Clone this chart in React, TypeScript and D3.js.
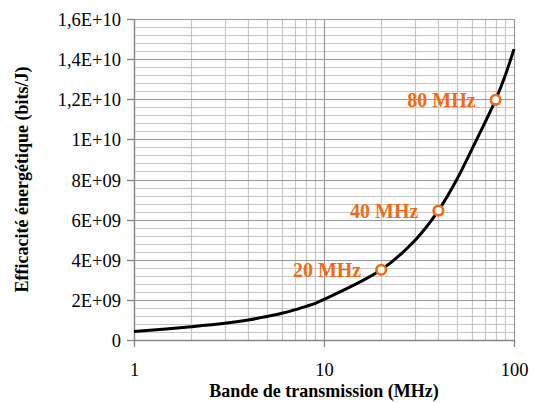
// Energy efficiency vs bandwidth, log-x line chart
import React from 'react';
import * as d3 from 'd3';

const bandwidths = [1, 2, 3, 4, 5, 6, 7, 8, 9, 10, 20, 30, 40, 50, 60, 70, 80, 90, 100];
const efficiency = [0.42e9, 0.66e9, 0.83e9, 1.0e9, 1.17e9, 1.33e9, 1.5e9, 1.67e9, 1.83e9, 2.02e9,
  3.5e9, 4.95e9, 6.45e9, 8.0e9, 9.5e9, 10.8e9, 11.97e9, 13.2e9, 14.5e9];

const markerBands = [20, 40, 80];
const markerValues = [3.5e9, 6.45e9, 11.97e9];
const markerLabels = ['20 MHz', '40 MHz', '80 MHz'];

const yTicks = [0, 2e9, 4e9, 6e9, 8e9, 1e10, 1.2e10, 1.4e10, 1.6e10];
const yTickLabels = ['0', '2E+09', '4E+09', '6E+09', '8E+09', '1E+10', '1,2E+10', '1,4E+10', '1,6E+10'];
const xTicks = [1, 10, 100];

const ORANGE = '#f7680f';
const FONT = 'Liberation Serif';

const width = 534;
const height = 403;
const margin = { top: 19, right: 20, bottom: 63, left: 134 };
const plotWidth = width - margin.left - margin.right;
const plotHeight = height - margin.top - margin.bottom;

const xScale = d3.scaleLog().domain([1, 100]).range([0, plotWidth]);
const yScale = d3.scaleLinear().domain([0, 1.6e10]).range([plotHeight, 0]);

const px = (v: number) => Math.round(v) + 0.5;
const serif = { fontFamily: FONT };

const App: React.FC = () => {
  // minor grid: every 4E+08 horizontally, 2..9 per decade vertically
  const minorY = d3.range(0, 1.6e10 + 1, 4e8);
  const minorX: number[] = [];
  [1, 10].forEach(dec => {
    for (let k = 2; k <= 9; k++) minorX.push(k * dec);
  });

  const pts = bandwidths.map((b, i) => ({ x: b, y: efficiency[i] }));
  const line = d3.line<{ x: number; y: number }>()
    .x(d => xScale(d.x))
    .y(d => yScale(d.y))
    .curve(d3.curveCatmullRom.alpha(0.5));

  return (
    <svg
      width={width}
      height={height}
      style={{ position: 'absolute', left: 0, top: 0, background: '#fff' }}
    >
      <g transform={`translate(${margin.left},${margin.top})`}>
        {minorY.map(d => (
          <line key={`hm${d}`} x1={0} x2={plotWidth} y1={px(yScale(d))} y2={px(yScale(d))}
            stroke="#c6c6c6" strokeWidth={1.2} />
        ))}
        {minorX.map(d => (
          <line key={`vm${d}`} y1={0} y2={plotHeight} x1={px(xScale(d))} x2={px(xScale(d))}
            stroke="#c6c6c6" strokeWidth={1.2} />
        ))}
        {yTicks.map(d => (
          <line key={`hM${d}`} x1={0} x2={plotWidth} y1={px(yScale(d))} y2={px(yScale(d))}
            stroke="#9a9a9a" strokeWidth={1.2} />
        ))}
        {xTicks.map(d => (
          <line key={`vM${d}`} y1={0} y2={plotHeight} x1={px(xScale(d))} x2={px(xScale(d))}
            stroke="#9a9a9a" strokeWidth={1.2} />
        ))}

        {/* y axis */}
        <line x1={0.5} x2={0.5} y1={0} y2={plotHeight} stroke="#868686" strokeWidth={1.3} />
        {yTicks.map((d, i) => (
          <g key={`yt${d}`} transform={`translate(0,${px(yScale(d))})`}>
            <line x1={-7} x2={0} stroke="#868686" strokeWidth={1.3} />
            <text x={-13} dy="0.34em" textAnchor="end" fontFamily={FONT} style={serif}
              fontSize={18.5} fill="#000">
              {yTickLabels[i]}
            </text>
          </g>
        ))}

        {/* x axis */}
        <line x1={0} x2={plotWidth} y1={plotHeight + 0.5} y2={plotHeight + 0.5} stroke="#868686" strokeWidth={1.3} />
        {xTicks.map(d => (
          <g key={`xt${d}`} transform={`translate(${px(xScale(d))},${plotHeight})`}>
            <line y1={0} y2={7} stroke="#868686" strokeWidth={1.3} />
            <text y={36} textAnchor="middle" fontFamily={FONT} style={serif} fontSize={18.5} fill="#000">
              {d}
            </text>
          </g>
        ))}

        <path d={line(pts) ?? ''} fill="none" stroke="#000" strokeWidth={3} />

        {markerBands.map((b, i) => {
          const cx = xScale(b);
          const cy = yScale(markerValues[i]);
          return (
            <g key={`mk${b}`}>
              <circle cx={cx} cy={cy} r={4.8} fill="#fff" stroke={ORANGE} strokeWidth={2.6} />
              <text x={cx - 20} y={cy + 7} textAnchor="end" fontFamily={FONT} style={serif}
                fontSize={20} fontWeight="bold" fill={ORANGE}>
                {markerLabels[i]}
              </text>
            </g>
          );
        })}
      </g>

      <text x={margin.left + plotWidth / 2} y={397} textAnchor="middle" fontFamily={FONT} style={serif}
        fontSize={18} fontWeight="bold">
        Bande de transmission (MHz)
      </text>
      <text
        transform={`translate(28,${margin.top + plotHeight / 2}) rotate(-90)`}
        textAnchor="middle"
        fontFamily={FONT}
        style={serif}
        fontSize={18}
        fontWeight="bold"
      >
        Efficacité énergétique (bits/J)
      </text>
    </svg>
  );
};

export default App;
